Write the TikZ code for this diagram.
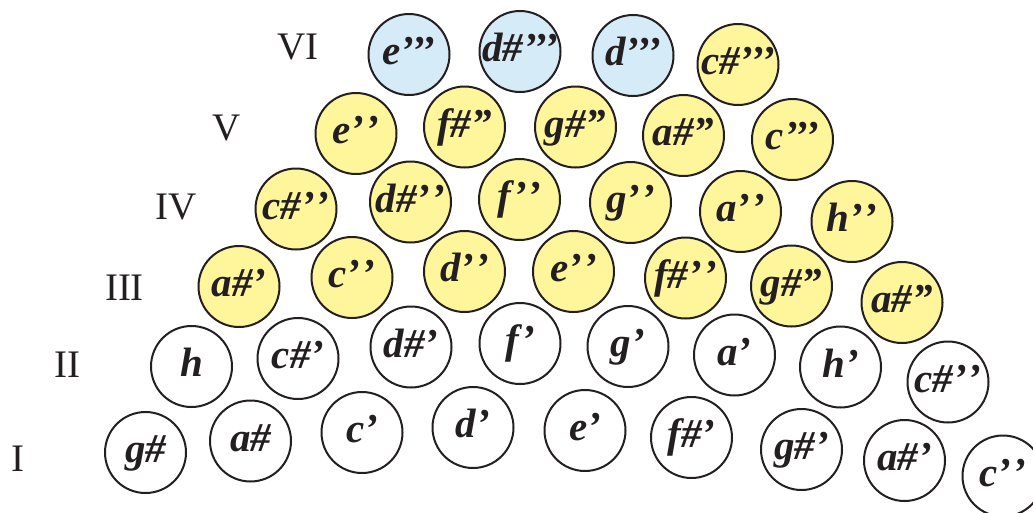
\documentclass[tikz,border=0pt]{standalone}
\usepackage{fontspec}
\setmainfont{Liberation Serif}
\definecolor{ink}{HTML}{231F20}
\definecolor{yel}{HTML}{FFF59B}
\definecolor{blu}{HTML}{D6EBF8}
\tikzset{
  note/.style={circle, draw=ink, line width=2pt, minimum size=81pt, inner sep=0pt,
    text height=20pt, text depth=0pt, text=ink,
    font=\fontsize{41}{48}\selectfont\bfseries\itshape},
  plain/.style={note, fill=white},
  warm/.style={note, fill=yel},
  cool/.style={note, fill=blu},
  rowlab/.style={anchor=base, inner sep=0pt, text=ink, font=\fontsize{39}{46}\selectfont}
}
\newcommand{\nt}[1]{\makebox[0pt][c]{#1}}
\newcommand{\pp}{’\kern1pt’}
\newcommand{\ppp}{’’’}
\begin{document}
\begin{tikzpicture}[x=1pt,y=-1pt]
\useasboundingbox (0,0) rectangle (1033,512);
\clip (0,0) rectangle (1033,512);
% row labels
\node[rowlab] (lI)   at (18,471)   {I};
\node[rowlab] (lII)  at (67.5,377) {II};
\node[rowlab] (lIII) at (124.5,300){III};
\node[rowlab] (lIV)  at (176,219)  {IV};
\node[rowlab] (lV)   at (226.5,140){V};
\node[rowlab] (lVI)  at (298,59)   {VI};
% row I
\node[plain] (a1) at (145.5,452.5) {\nt{g\#}};
\node[plain] (a2) at (250.5,441)   {\nt{a\#}};
\node[plain] (a3) at (362,432.5)   {\nt{c’}};
\node[plain] (a4) at (473,427.5)   {\nt{d’}};
\node[plain] (a5) at (585,430.5)   {\nt{e’}};
\node[plain] (a6) at (691.5,437.5) {\nt{f\#’}};
\node[plain] (a7) at (801.5,449.5) {\nt{g\#’}};
\node[plain] (a8) at (904.5,460.5) {\nt{a\#’}};
\node[plain] (a9) at (1003,476)    {\nt{c\pp}};
% row II
\node[plain] (b1) at (191.5,366.5) {\nt{h}};
\node[plain] (b2) at (298,358.5)   {\nt{c\#’}};
\node[plain] (b3) at (411,347)     {\nt{d\#’}};
\node[plain] (b4) at (520,343.5)   {\nt{f’}};
\node[plain] (b5) at (628,346.5)   {\nt{g’}};
\node[plain] (b6) at (734.5,355)   {\nt{a’}};
\node[plain] (b7) at (840.5,367)   {\nt{h’}};
\node[plain] (b8) at (948,382)     {\nt{c\#\pp}};
% row III
\node[warm] (c1) at (239,286.5)   {\nt{a\#’}};
\node[warm] (c2) at (352,277.5)   {\nt{c\pp}};
\node[warm] (c3) at (464.5,271.5) {\nt{d\pp}};
\node[warm] (c4) at (573.5,271.5) {\nt{e\pp}};
\node[warm] (c5) at (685.5,278)   {\nt{f\#\pp}};
\node[warm] (c6) at (791.5,286)   {\nt{g\#”}};
\node[warm] (c7) at (902,302.5)   {\nt{a\#”}};
% row IV
\node[warm] (d1) at (296,209)     {\nt{c\#\pp}};
\node[warm] (d2) at (410.5,202)   {\nt{d\#\pp}};
\node[warm] (d3) at (519.5,199.5) {\nt{f\pp}};
\node[warm] (d4) at (630.5,202.5) {\nt{g\pp}};
\node[warm] (d5) at (740.5,211.5) {\nt{a\pp}};
\node[warm] (d6) at (852,221.5)   {\nt{h\pp}};
% row V
\node[warm] (e1) at (356,133.5)   {\nt{e\pp}};
\node[warm] (e2) at (464.5,127)   {\nt{f\#”}};
\node[warm] (e3) at (575.5,127)   {\nt{g\#”}};
\node[warm] (e4) at (683.5,135.5) {\nt{a\#”}};
\node[warm] (e5) at (792.5,139.5) {\nt{c\ppp}};
% row VI
\node[cool] (f1) at (409,54.5)    {\nt{e\ppp}};
\node[cool] (f2) at (520,51.5)    {\nt{d\#\ppp}};
\node[cool] (f3) at (633,55.5)    {\nt{d\ppp}};
\node[warm] (f4) at (738,64.5)    {\nt{c\#\ppp}};
\end{tikzpicture}
\end{document}
